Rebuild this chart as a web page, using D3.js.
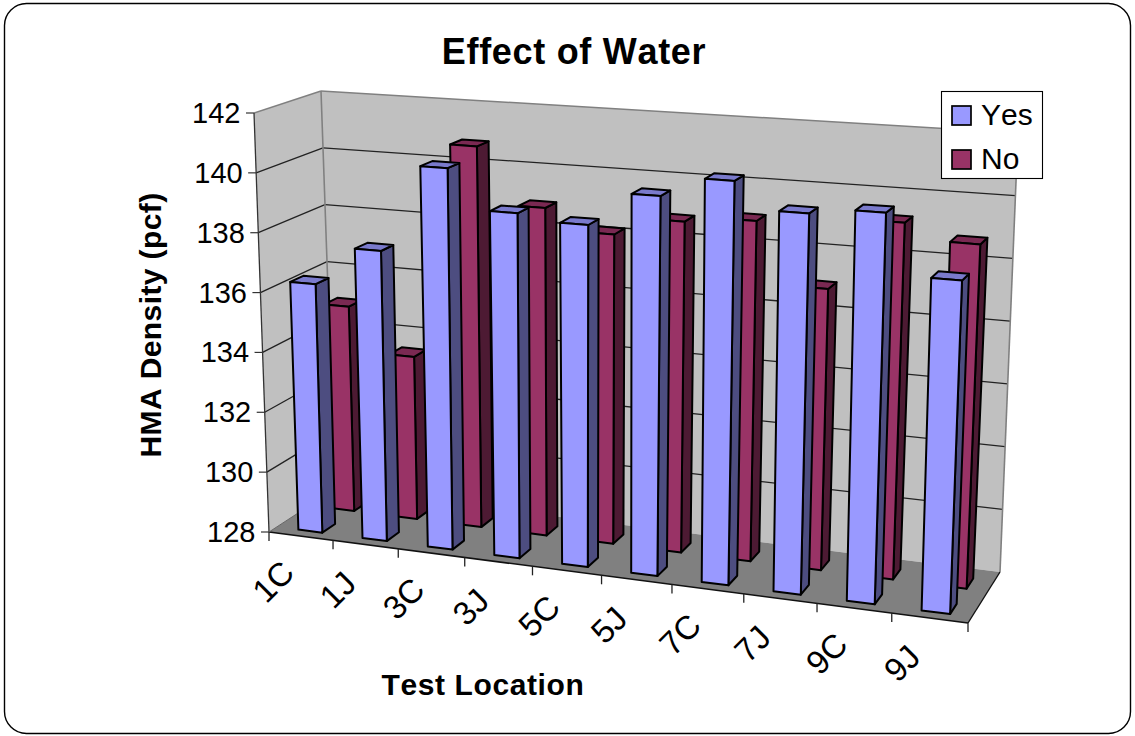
<!DOCTYPE html>
<html><head><meta charset="utf-8">
<style>html,body{margin:0;padding:0;background:#fff}svg{display:block}text{font-family:"Liberation Sans",Arial,sans-serif;fill:#000;font-kerning:none}</style>
<script src="https://cdn.jsdelivr.net/npm/d3@7/dist/d3.min.js"></script>
</head><body><svg id="c" width="1135" height="736"></svg>
<script>
const categories=["1C","1J","3C","3J","5C","5J","7C","7J","9C","9J"];
const seriesNames=["Yes","No"];
const yesValues=[136.3,137.6,140.5,139.2,139.0,140.1,140.75,139.9,140.1,138.2];
const noValues=[135.0,133.5,140.8,138.9,138.2,138.8,139.0,137.0,139.3,138.8];
const valueTicks=[128,130,132,134,136,138,140,142];
const palette={Yes:["#9999FF","#7A7ACC","#4D4D80"],No:["#993366","#7A2952","#4D1A33"]};

const svg=d3.select("#c");
// projection frame: [front-left, front-right, back-left, back-right]
const floorC=[[269,532],[968,623],[335,489],[1000,572]];
const ceilC=[[254,113],[983,161],[321,91],[1018,133]];
const warpK=-0.0925;
const warp=u=>u*(1+warpK)/(1+warpK*u);
const xBand=d3.scaleBand().domain(categories).range([0,1]);
const zBand=d3.scaleBand().domain(seriesNames).range([.12,.82]).paddingInner(.6);
const vScale=d3.scaleLinear().domain([128,142]).range([0,1]);
function bil(c,u,w,i){const a=c[0][i]+(c[1][i]-c[0][i])*u,b=c[2][i]+(c[3][i]-c[2][i])*u;return a+(b-a)*w;}
function P(rawU,w,v){const u=warp(rawU),t=vScale(v);
  return [0,1].map(i=>{const f=bil(floorC,u,w,i),g=bil(ceilC,u,w,i);return f+(g-f)*t;});}
const path=pts=>"M"+pts.map(p=>p[0].toFixed(1)+","+p[1].toFixed(1)).join("L")+"Z";
const line=(a,b,col,sw)=>svg.append("line").attr("x1",a[0]).attr("y1",a[1]).attr("x2",b[0]).attr("y2",b[1]).attr("stroke",col).attr("stroke-width",sw);

// chart frame
svg.append("rect").attr("x",4.5).attr("y",3.5).attr("width",1126).attr("height",730).attr("rx",22).attr("fill","#fff").attr("stroke","#000").attr("stroke-width",1.4);

// walls and floor
const vMin=valueTicks[0],vMax=valueTicks[valueTicks.length-1];
svg.append("path").attr("d",path([P(0,0,vMin),P(0,1,vMin),P(0,1,vMax),P(0,0,vMax)])).attr("fill","#C0C0C0");
svg.append("path").attr("d",path([P(0,1,vMin),P(1,1,vMin),P(1,1,vMax),P(0,1,vMax)])).attr("fill","#C0C0C0");
svg.append("path").attr("d",path([P(0,0,vMin),P(1,0,vMin),P(1,1,vMin),P(0,1,vMin)])).attr("fill","#808080");
valueTicks.forEach(v=>{
  if(v>vMin&&v<vMax){line(P(0,0,v),P(0,1,v),"#222",1.3);line(P(0,1,v),P(1,1,v),"#222",1.3);}
  const a=P(0,0,v);
  line([a[0]-8,a[1]],a,"#333",1.2);
  svg.append("text").attr("x",a[0]-13.5).attr("y",a[1]+10).attr("text-anchor","end").attr("font-size",29).text(v);
});
line(P(0,0,vMax),P(0,1,vMax),"#808080",1.5);
line(P(0,1,vMax),P(1,1,vMax),"#808080",1.5);
line(P(0,1,vMax),P(0,1,vMin),"#808080",1.6);
line(P(1,1,vMax),P(1,1,vMin),"#808080",1.6);
line(P(0,0,vMax),P(0,0,vMin),"#333",1.3);
line(P(0,0,vMin),P(1,0,vMin),"#111",1.5);
line(P(1,0,vMin),P(1,1,vMin),"#111",1.4);
line(P(0,0,vMin),P(0,1,vMin),"#666",1);

// category ticks & labels
const edges=categories.map(c=>xBand(c)).concat([1]);
edges.forEach(e=>{const a=P(e,0,vMin);line(a,[a[0],a[1]+9],"#222",1.3);});
categories.forEach(c=>{
  const a=P(xBand(c)+xBand.bandwidth()/2,0,vMin);
  const cx=a[0]-28,cy=a[1]+45;
  svg.append("text").attr("transform",`translate(${cx},${cy}) rotate(-45)`).attr("text-anchor","middle").attr("dy","0.36em").attr("font-size",33).text(c);
});

// bars: back row first
const bw=xBand.bandwidth();
function bar(name,cat,val){
  const u0=xBand(cat)+bw*.34,u1=xBand(cat)+bw*.715,u1t=u1+bw*.025*vScale(val);
  const w0=zBand(name),w1=w0+zBand.bandwidth();
  const [cf,ct,cs]=palette[name];
  const g=svg.append("g").attr("stroke","#000").attr("stroke-width",2).attr("stroke-linejoin","round");
  g.append("path").attr("fill",cs).attr("d",path([P(u1,w0,vMin),P(u1,w1,vMin),P(u1t,w1,val),P(u1t,w0,val)]));
  g.append("path").attr("fill",ct).attr("d",path([P(u0,w0,val),P(u1t,w0,val),P(u1t,w1,val),P(u0,w1,val)]));
  g.append("path").attr("fill",cf).attr("d",path([P(u0,w0,vMin),P(u1,w0,vMin),P(u1t,w0,val),P(u0,w0,val)]));
}
categories.forEach((c,i)=>bar("No",c,noValues[i]));
categories.forEach((c,i)=>bar("Yes",c,yesValues[i]));

// titles
svg.append("text").attr("x",574).attr("y",64).attr("text-anchor","middle").attr("font-size",36).attr("letter-spacing",.7).attr("font-weight","bold").text("Effect of Water");
svg.append("text").attr("x",483).attr("y",695).attr("text-anchor","middle").attr("font-size",30).attr("letter-spacing",.6).attr("font-weight","bold").text("Test Location");
svg.append("text").attr("transform","translate(161,325) rotate(-90)").attr("text-anchor","middle").attr("font-size",30).attr("letter-spacing",.4).attr("font-weight","bold").text("HMA Density (pcf)");

// legend
svg.append("rect").attr("x",941.5).attr("y",91.5).attr("width",101).attr("height",87).attr("fill","#fff").attr("stroke","#000").attr("stroke-width",1.1);
seriesNames.forEach((s,i)=>{
  const y=106+i*44;
  svg.append("rect").attr("x",952).attr("y",y).attr("width",19).attr("height",19).attr("fill",palette[s][0]).attr("stroke","#000").attr("stroke-width",1.7);
  svg.append("text").attr("x",981).attr("y",y+19).attr("font-size",30).text(s);
});
</script></body></html>
